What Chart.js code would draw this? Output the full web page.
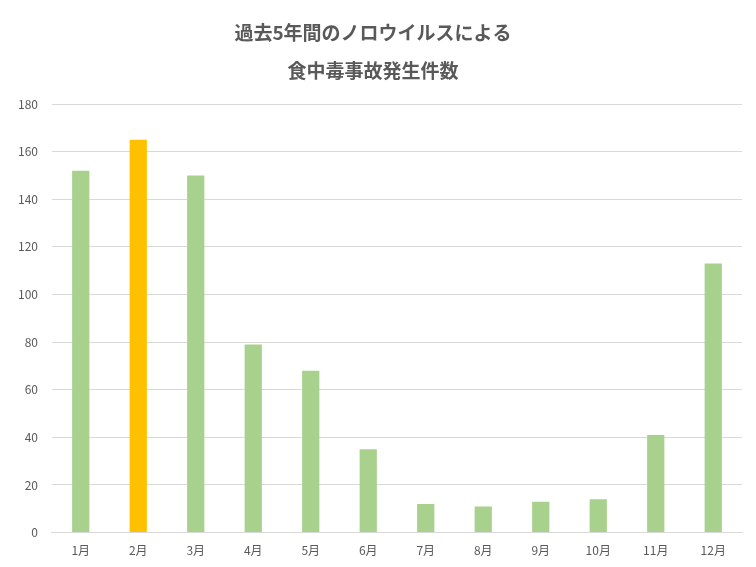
<!DOCTYPE html>
<html>
<head>
<meta charset="utf-8">
<script src="https://cdn.jsdelivr.net/npm/chart.js@4"></script>
<style>
  html, body { margin: 0; padding: 0; background: #fff; }
  #wrap { width: 756px; height: 567px; }
</style>
</head>
<body>
<div id="wrap"><canvas id="chart1" width="756" height="567"></canvas></div>
<script>
// data
const months = ['1月', '2月', '3月', '4月', '5月', '6月', '7月', '8月', '9月', '10月', '11月', '12月'];
const cases = [152, 165, 150, 79, 68, 35, 12, 11, 13, 14, 41, 113];
const highlightMonth = '2月';

const barColors = months.map(m => m === highlightMonth ? '#FFC000' : '#A9D18E');

new Chart(document.getElementById('chart1'), {
    type: 'bar',
    data: {
        labels: months,
        datasets: [{
            data: cases,
            backgroundColor: barColors,
            categoryPercentage: 0.3,
            barPercentage: 1
        }]
    },
    options: {
        responsive: false,
        animation: false,
        layout: { padding: { left: 4, right: 14, top: 10, bottom: 6 } },
        plugins: {
            legend: { display: false },
            tooltip: { enabled: false },
            title: {
                display: true,
                text: ['過去5年間のノロウイルスによる', '食中毒事故発生件数'],
                color: '#595959',
                font: { family: '"Noto Sans CJK JP"', size: 19, weight: 'bold', lineHeight: 2.0 },
                padding: { top: 4, bottom: 14 }
            }
        },
        scales: {
            x: {
                grid: { display: false },
                border: { color: '#D9D9D9' },
                ticks: { color: '#595959', font: { family: '"Noto Sans CJK JP"', size: 12 } }
            },
            y: {
                min: 0, max: 180,
                ticks: { stepSize: 20, color: '#595959', padding: 14, font: { family: '"Noto Sans CJK JP"', size: 12 } },
                grid: { color: '#D9D9D9', drawTicks: false },
                border: { display: false }
            }
        }
    }
});
</script>
</body>
</html>
